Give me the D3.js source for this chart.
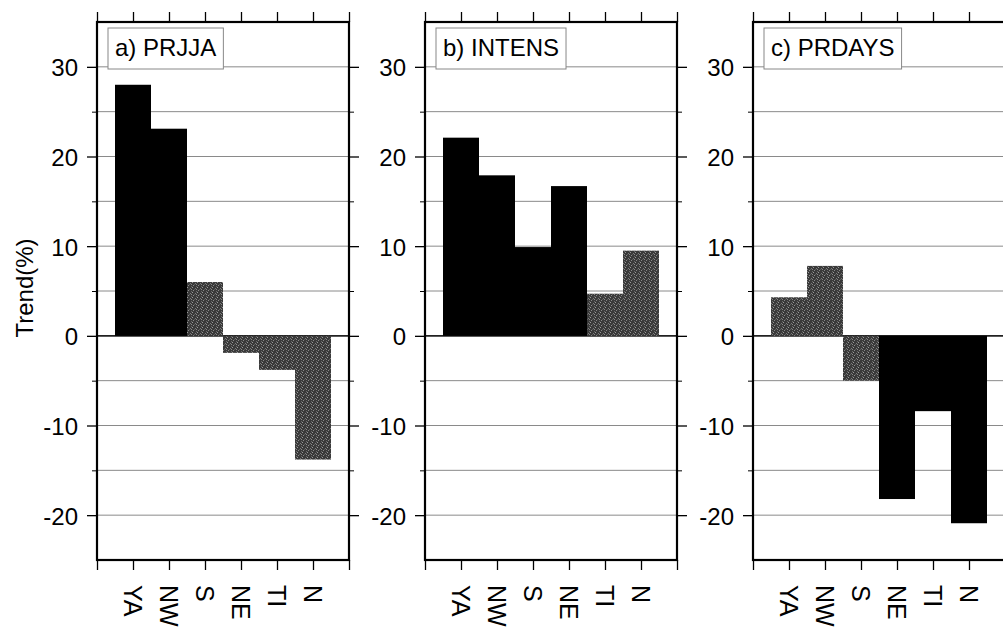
<!DOCTYPE html>
<html>
<head>
<meta charset="utf-8">
<script src="https://cdn.jsdelivr.net/npm/d3@7/dist/d3.min.js"></script>
<style>
  html, body { margin: 0; padding: 0; background: #fff; }
  svg { display: block; }
  text { font-family: "Liberation Sans", Arial, Helvetica, sans-serif; fill: #000; }
</style>
</head>
<body>
<svg id="chart" width="1003" height="628"></svg>
<script>
// ---- data ----
const regions = ["YA", "NW", "S", "NE", "TI", "N"];
const panelTitles = ["a) PRJJA", "b) INTENS", "c) PRDAYS"];
const prjjaValues = [28.0, 23.1, 6.0, -1.9, -3.8, -13.8];
const intensValues = [22.1, 17.9, 9.9, 16.7, 4.7, 9.5];
const prdaysValues = [4.3, 7.8, -5.0, -18.2, -8.4, -20.9];
// significant (black) vs not significant (stippled gray)
const prjjaSignif = [true, true, false, false, false, false];
const intensSignif = [true, true, true, true, false, false];
const prdaysSignif = [false, false, false, true, true, true];
const yMajorTicks = [-20, -10, 0, 10, 20, 30];
const yMinorTicks = [-15, -5, 5, 15, 25];
const yGridValues = [-20, -15, -10, -5, 0, 5, 10, 15, 20, 25, 30];
const yDomain = [-25, 35];
const yAxisTitle = "Trend(%)";

const panels = [
  { title: panelTitles[0], values: prjjaValues, signif: prjjaSignif },
  { title: panelTitles[1], values: intensValues, signif: intensSignif },
  { title: panelTitles[2], values: prdaysValues, signif: prdaysSignif }
];

// ---- layout ----
const svg = d3.select("#chart");
const plotTop = 22, plotBottom = 560, plotW = 252, panelStep = 328, firstLeft = 97;
const fontSize = 24;

// stipple pattern for gray bars
const defs = svg.append("defs");
const pat = defs.append("pattern").attr("id", "stipple")
  .attr("patternUnits", "userSpaceOnUse").attr("width", 5).attr("height", 5);
pat.append("rect").attr("width", 5).attr("height", 5).attr("fill", "#3a3a3a");
[[0,0,"#9a9a9a"],[3,1,"#7a7a7a"],[1,3,"#8a8a8a"],[4,4,"#6a6a6a"],[2,2,"#5a5a5a"],[4,2,"#888"]].forEach(([px,py,c]) =>
  pat.append("rect").attr("x", px).attr("y", py).attr("width", 1).attr("height", 1).attr("fill", c));

const y = d3.scaleLinear().domain(yDomain).range([plotBottom - plotTop, 0]);
const x = d3.scaleLinear().domain([0, regions.length + 1]).range([0, plotW]);
const plotH = plotBottom - plotTop;

panels.forEach((p, pi) => {
  const g = svg.append("g").attr("transform", `translate(${firstLeft + pi * panelStep},${plotTop})`);

  // gridlines
  g.append("g").selectAll("line").data(yGridValues).join("line")
    .attr("x1", 0).attr("x2", plotW)
    .attr("y1", d => y(d)).attr("y2", d => y(d))
    .attr("stroke", d => d === 0 ? "#222" : "#8a8a8a")
    .attr("stroke-width", d => d === 0 ? 1.6 : 1);

  // bars
  g.append("g").selectAll("rect").data(p.values).join("rect")
    .attr("x", (d, i) => x(i + 0.5))
    .attr("width", (d, i) => x(i + 1.5) - x(i + 0.5))
    .attr("y", d => y(Math.max(0, d)))
    .attr("height", d => Math.abs(y(d) - y(0)))
    .attr("fill", (d, i) => p.signif[i] ? "#000" : "url(#stipple)");

  // left axis major with labels
  const leftMajor = d3.axisLeft(y).tickValues(yMajorTicks).tickSize(10).tickPadding(9)
    .tickFormat(d => String(d));
  const la = g.append("g").call(leftMajor);
  la.select(".domain").remove();
  la.selectAll("line").attr("stroke", "#000").attr("stroke-width", 1.3);
  la.selectAll("text").attr("font-size", fontSize).attr("font-family", "Liberation Sans, Arial, sans-serif")
    .attr("fill", "#000").attr("dy", "0.38em");
  const lm = g.append("g").call(d3.axisLeft(y).tickValues(yMinorTicks).tickSize(5).tickFormat(""));
  lm.select(".domain").remove();
  lm.selectAll("line").attr("stroke", "#000");

  // right axis
  const rg = g.append("g").attr("transform", `translate(${plotW},0)`);
  const ra = rg.append("g").call(d3.axisRight(y).tickValues(yMajorTicks).tickSize(10).tickFormat(""));
  ra.select(".domain").remove();
  ra.selectAll("line").attr("stroke", "#000").attr("stroke-width", 1.3);
  const rm = rg.append("g").call(d3.axisRight(y).tickValues(yMinorTicks).tickSize(5).tickFormat(""));
  rm.select(".domain").remove();
  rm.selectAll("line").attr("stroke", "#000");

  // top & bottom axes (category boundaries)
  const xt = d3.range(0, regions.length + 2);
  const ta = g.append("g").call(d3.axisTop(x).tickValues(xt).tickSize(10).tickFormat(""));
  ta.select(".domain").remove();
  ta.selectAll("line").attr("stroke", "#000").attr("stroke-width", 1.3);
  const ba = g.append("g").attr("transform", `translate(0,${plotH})`)
    .call(d3.axisBottom(x).tickValues(xt).tickSize(10).tickFormat(""));
  ba.select(".domain").remove();
  ba.selectAll("line").attr("stroke", "#000").attr("stroke-width", 1.3);

  // frame
  g.append("rect").attr("x", 0).attr("y", 0).attr("width", plotW).attr("height", plotH)
    .attr("fill", "none").attr("stroke", "#000").attr("stroke-width", 2.2);

  // region labels (rotated)
  g.append("g").selectAll("text").data(regions).join("text")
    .attr("transform", (d, i) => `translate(${x(i + 1)},${plotH + 25}) rotate(90)`)
    .attr("dy", "0.36em")
    .attr("font-size", fontSize + 1)
    .attr("text-anchor", "start")
    .text(d => d);

  // title box
  const tb = g.append("g").attr("transform", "translate(11,6)");
  const rect = tb.append("rect").attr("fill", "#fff").attr("stroke", "#888").attr("stroke-width", 1);
  const t = tb.append("text").attr("x", 7).attr("y", 28).attr("font-size", fontSize).text(p.title);
  const bb = t.node().getBBox();
  rect.attr("x", 0).attr("y", 0).attr("width", bb.width + 14).attr("height", 41);
});

// y axis title
svg.append("text")
  .attr("transform", "translate(33,288) rotate(-90)")
  .attr("text-anchor", "middle")
  .attr("font-size", fontSize)
  .text(yAxisTitle);
</script>
</body>
</html>
